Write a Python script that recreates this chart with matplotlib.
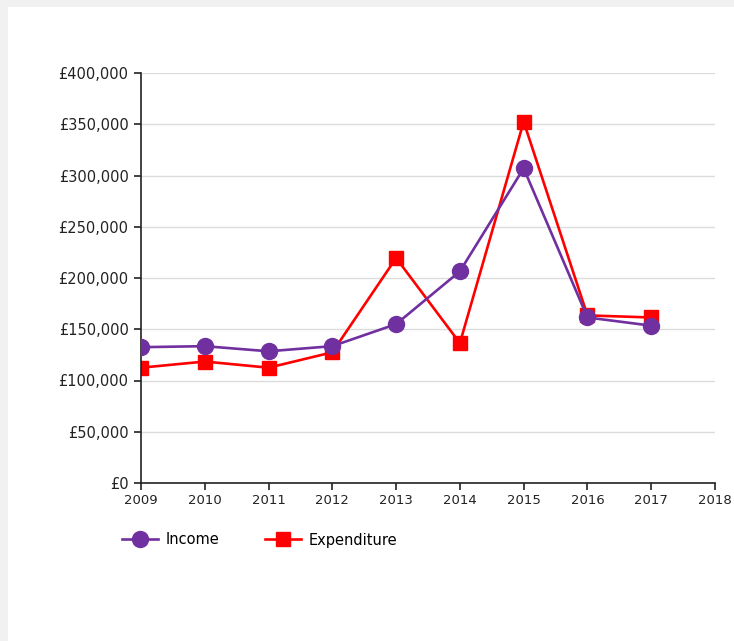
import matplotlib
matplotlib.use("Agg")
import matplotlib.pyplot as plt
import matplotlib.patches as mpatches
from matplotlib.ticker import FuncFormatter

years = [2009, 2010, 2011, 2012, 2013, 2014, 2015, 2016, 2017]
income = [132500, 133500, 128500, 133500, 155000, 206500, 307000, 161500, 153500]
expenditure = [112500, 118500, 112500, 127500, 219500, 136500, 352500, 163500, 161500]
year_ticks = list(range(2009, 2019))
money_ticks = list(range(0, 400001, 50000))

plt.rcParams['font.family'] = ['DejaVu Sans']

fig = plt.figure(figsize=(7.34, 6.41), dpi=100)
fig.patch.set_facecolor('#f1f1f1')
# white card over the grey page
fig.add_artist(mpatches.Rectangle((8/734, 0), 1, 1 - 7/641, transform=fig.transFigure,
                                  facecolor='white', edgecolor='none', zorder=0))

ax = fig.add_axes([141/734, 1 - 483/641, 574/734, 410/641])
ax.set_facecolor('none')

ax.plot(years, income, color='#7030a0', lw=1.9, marker='o', ms=11.5, label='Income', zorder=3)
ax.plot(years, expenditure, color='#ff0000', lw=1.9, marker='s', ms=10.5, label='Expenditure', zorder=2)

ax.set_xlim(2009, 2018)
ax.set_ylim(0, 400000)
ax.set_xticks(year_ticks)
ax.set_yticks(money_ticks)
ax.yaxis.set_major_formatter(FuncFormatter(lambda v, p: f"£{int(v):,}"))
ax.grid(axis='y', color='#dcdcdc', lw=1)
ax.set_axisbelow(True)

for s in ['top', 'right']:
    ax.spines[s].set_visible(False)
for s in ['left', 'bottom']:
    ax.spines[s].set_color('#222222')
    ax.spines[s].set_linewidth(1.2)
ax.tick_params(axis='both', direction='out', length=5, width=1.2, color='#222222')
ax.tick_params(axis='y', labelsize=10.5, pad=4, colors='#222222')
ax.tick_params(axis='x', labelsize=9.5, pad=3, colors='#222222')

fig.legend(loc='center left', bbox_to_anchor=(122/734, 1 - 540/641), ncol=2, frameon=False,
           fontsize=10.5, handlelength=2.5, handletextpad=0.5, columnspacing=3.1, borderpad=0,
           borderaxespad=0)

fig.savefig('out.png', dpi=100, facecolor=fig.get_facecolor())
